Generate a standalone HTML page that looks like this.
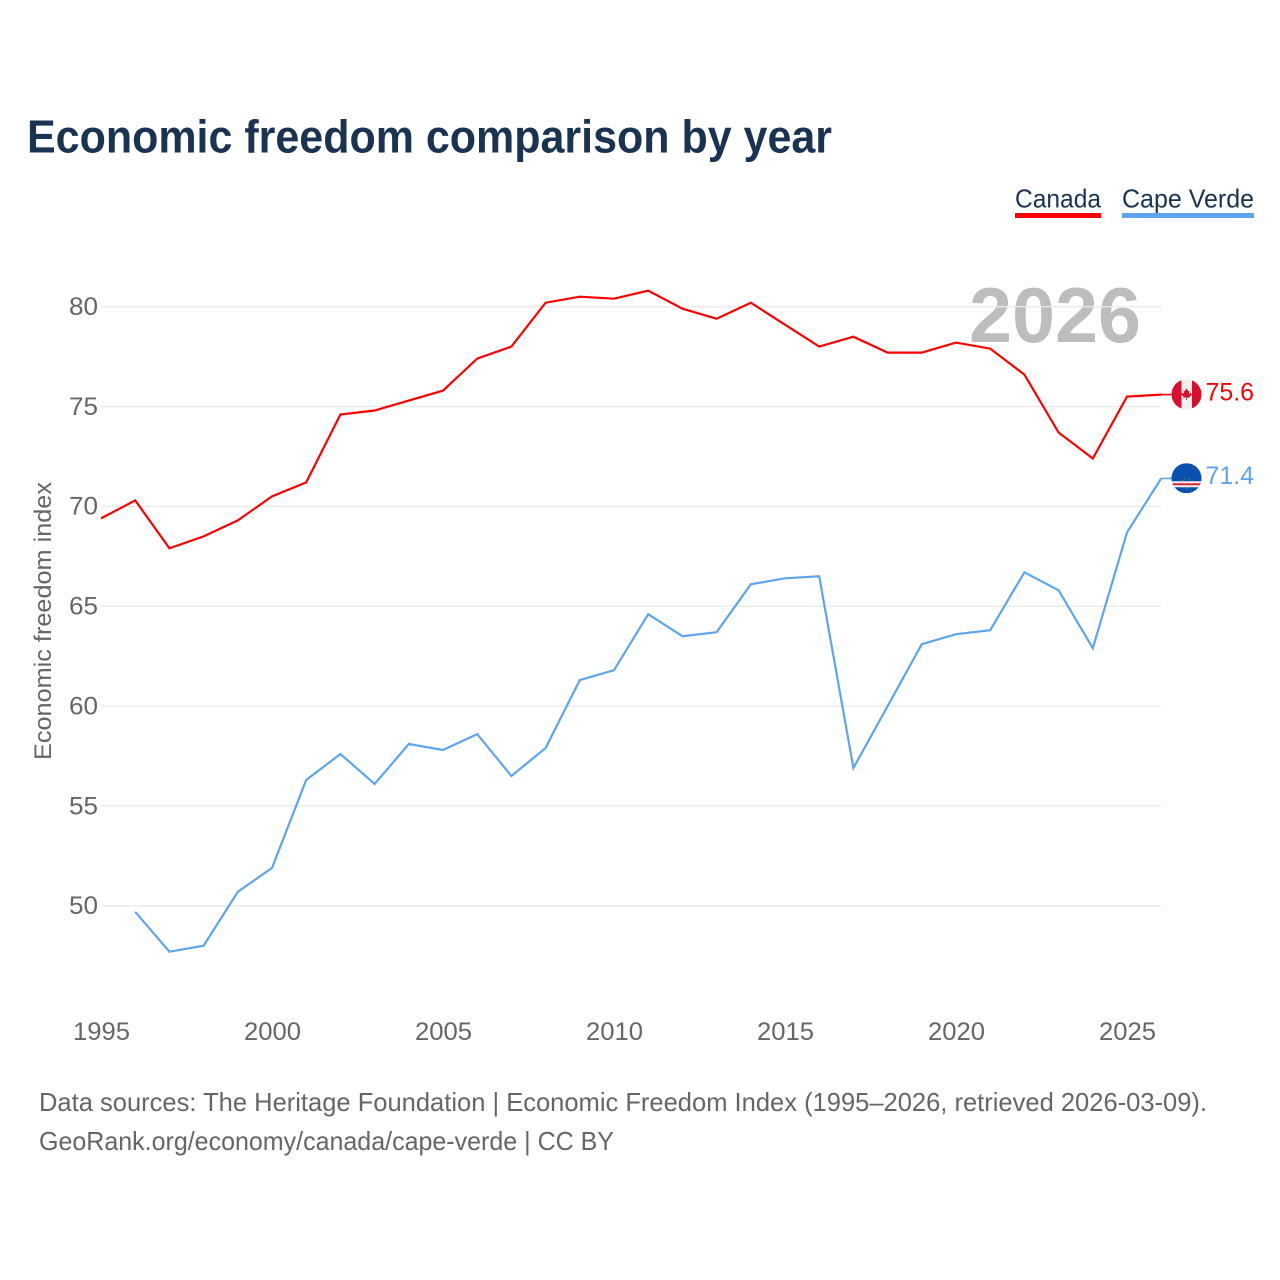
<!DOCTYPE html>
<html lang="en">
<head>
<meta charset="utf-8">
<title>Economic freedom comparison by year</title>
<style>
html,body{margin:0;padding:0;background:#fff;}
svg{display:block;}
text{font-family:"Liberation Sans",sans-serif;}
</style>
</head>
<body>
<svg id="chart" xmlns="http://www.w3.org/2000/svg" width="1280" height="1280" viewBox="0 0 1280 1280">
  <rect width="1280" height="1280" fill="#ffffff"/>
  <defs>
    <clipPath id="flag-clip"><circle cx="0" cy="0" r="15"/></clipPath>
  </defs>
  <text x="27" y="152.5" font-size="46" font-weight="700" fill="#1b3353" textLength="805" lengthAdjust="spacingAndGlyphs">Economic freedom comparison by year</text>

  <text x="1015" y="207.5" font-size="26" fill="#1b3353" textLength="86" lengthAdjust="spacingAndGlyphs">Canada</text>
  <rect x="1015" y="213" width="86" height="5" fill="#ff0000"/>
  <text x="1122" y="207.5" font-size="26" fill="#1b3353" textLength="132" lengthAdjust="spacingAndGlyphs">Cape Verde</text>
  <rect x="1122" y="213" width="132" height="5" fill="#5fa5ee"/>

  <text x="969" y="342" font-size="78" font-weight="700" fill="#000000" fill-opacity="0.26" textLength="172" lengthAdjust="spacingAndGlyphs">2026</text>

  <g id="grid"></g>
  <g id="y-axis"></g>
  <g id="x-axis"></g>
  <text transform="translate(51,621) rotate(-90)" text-anchor="middle" font-size="24" fill="#666666" textLength="278" lengthAdjust="spacingAndGlyphs">Economic freedom index</text>
  <g id="series"></g>

  <g id="flag-canada">
    <g clip-path="url(#flag-clip)">
      <rect x="-15" y="-15" width="30" height="30" fill="#f2f0f0"/>
      <rect x="-15" y="-15" width="10" height="30" fill="#d80f2c"/>
      <rect x="5.5" y="-15" width="10" height="30" fill="#d80f2c"/>
      <polygon points="0,-6 1.6,-3.2 3,-3.8 2.4,-0.6 4.8,-2 4.2,-0.6 5.6,0 3,2.2 3.4,3.4 0.4,3 0.4,5.5 -0.4,5.5 -0.4,3 -3.4,3.4 -3,2.2 -5.6,0 -4.2,-0.6 -4.8,-2 -2.4,-0.6 -3,-3.8 -1.6,-3.2" fill="#d80f2c"/>
    </g>
  </g>
  <g id="flag-cape-verde">
    <g clip-path="url(#flag-clip)">
      <rect x="-15" y="-15" width="30" height="30" fill="#0a50ae"/>
      <rect x="-15" y="3" width="30" height="6" fill="#f4f0f0"/>
      <rect x="-15" y="5" width="30" height="2" fill="#cf2a3e"/>
      <circle cx="0" cy="5" r="5" fill="none" stroke="#d9b24a" stroke-width="0.8" stroke-dasharray="1 1.6" opacity="0.8"/>
    </g>
  </g>

  <g id="end-labels"></g>

  <text x="39" y="1111" font-size="26" fill="#666666" textLength="1168" lengthAdjust="spacingAndGlyphs">Data sources: The Heritage Foundation | Economic Freedom Index (1995–2026, retrieved 2026-03-09).</text>
  <text x="39" y="1150" font-size="26" fill="#666666" textLength="575" lengthAdjust="spacingAndGlyphs">GeoRank.org/economy/canada/cape-verde | CC BY</text>
</svg>
<script>
const years = [1995,1996,1997,1998,1999,2000,2001,2002,2003,2004,2005,2006,2007,2008,2009,2010,2011,2012,2013,2014,2015,2016,2017,2018,2019,2020,2021,2022,2023,2024,2025,2026];
const canadaValues = [69.4,70.3,67.9,68.5,69.3,70.5,71.2,74.6,74.8,75.3,75.8,77.4,78.0,80.2,80.5,80.4,80.8,79.9,79.4,80.2,79.1,78.0,78.5,77.7,77.7,78.2,77.9,76.6,73.7,72.4,75.5,75.6];
const capeVerdeValues = [null,49.7,47.7,48.0,50.7,51.9,56.3,57.6,56.1,58.1,57.8,58.6,56.5,57.9,61.3,61.8,64.6,63.5,63.7,66.1,66.4,66.5,56.9,60.0,63.1,63.6,63.8,66.7,65.8,62.9,68.7,71.4];
const yTicks = [50,55,60,65,70,75,80];
const xTicks = [1995,2000,2005,2010,2015,2020,2025];

const SVG_NS = 'http://www.w3.org/2000/svg';
const xScale = function (year) { return 101 + (year - 1995) * 34.2; };
const yScale = function (value) { return 306.7 + (80 - value) * 19.97; };

function make(tag, parent, attrs, content) {
  const el = document.createElementNS(SVG_NS, tag);
  Object.keys(attrs).forEach(function (k) { el.setAttribute(k, attrs[k]); });
  if (content !== undefined) el.textContent = content;
  parent.appendChild(el);
  return el;
}

const gridGroup = document.getElementById('grid');
const yAxisGroup = document.getElementById('y-axis');
const xAxisGroup = document.getElementById('x-axis');
const seriesGroup = document.getElementById('series');
const endLabelGroup = document.getElementById('end-labels');

yTicks.forEach(function (tick) {
  const y = yScale(tick);
  const line = make('line', gridGroup, { x1: 101, x2: xScale(2026), y1: y, y2: y, stroke: '#e9e9e9', 'stroke-width': 1.3 });
  
  
  const label = make('text', yAxisGroup, { x: 98, y: y + 8.3, 'text-anchor': 'end', 'font-size': 25, fill: '#666666', textLength: 29, lengthAdjust: 'spacingAndGlyphs' }, String(tick));
  
  
});

xTicks.forEach(function (tick) {
  const label = make('text', xAxisGroup, { x: xScale(tick) + 0.5, y: 1040, 'text-anchor': 'middle', 'font-size': 25, fill: '#666666', textLength: 57, lengthAdjust: 'spacingAndGlyphs' }, String(tick));
  
  
});

function linePath(values) {
  let d = '';
  values.forEach(function (v, i) {
    if (v === null) return;
    d += (d === '' ? 'M' : 'L') + xScale(years[i]).toFixed(1) + ' ' + yScale(v).toFixed(1);
  });
  return d;
}

function drawSeries(values, color, slug, flagId) {
  const last = values[values.length - 1];
  const endX = xScale(years[years.length - 1]);
  const endY = yScale(last);
  const path = make('path', seriesGroup, { d: linePath(values), fill: 'none', stroke: color, 'stroke-width': 2.2, 'stroke-linejoin': 'miter' });
  
  
  const leader = make('line', seriesGroup, { x1: endX, x2: endX + 12, y1: endY, y2: endY, stroke: color, 'stroke-width': 1.6 });
  
  
  document.getElementById(flagId).setAttribute('transform', 'translate(' + (endX + 25.3) + ',' + (endY - 0.2) + ')');
  const label = make('text', endLabelGroup, { x: 1205.5, y: endY + 5.8, 'font-size': 25, fill: color, textLength: 48.5, lengthAdjust: 'spacingAndGlyphs' }, last.toFixed(1));
  
  
}

drawSeries(canadaValues, '#ff0000', 'canada', 'flag-canada');
drawSeries(capeVerdeValues, '#5fa5ee', 'cape-verde', 'flag-cape-verde');
</script>
</body>
</html>
